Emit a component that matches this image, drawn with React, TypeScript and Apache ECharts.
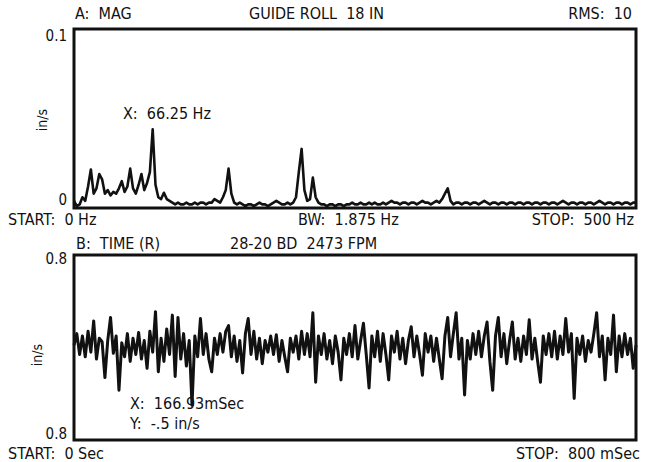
import React, { useEffect, useRef } from "react";
import * as echarts from "echarts";

// ---- Spectrum (A: MAG) : 0..500 Hz, bins every 2.5 Hz, amplitude in in/s ----
const SPEC_START_HZ = 0;
const SPEC_STEP_HZ = 2.5;
const spectrumAmp: number[] = [
  0.004, 0.001, 0.002, 0.006, 0.004, 0.012, 0.0215, 0.008, 0.011, 0.019,
  0.016, 0.008, 0.010, 0.007, 0.009, 0.008, 0.011, 0.015, 0.009, 0.012,
  0.022, 0.011, 0.008, 0.013, 0.019, 0.010, 0.014, 0.020, 0.044, 0.013,
  0.006, 0.005, 0.0085, 0.005, 0.004, 0.003, 0.002, 0.003, 0.002, 0.002,
  0.003, 0.002, 0.002, 0.003, 0.002, 0.003, 0.003, 0.002, 0.003, 0.003,
  0.005, 0.004, 0.003, 0.006, 0.010, 0.022, 0.008, 0.003, 0.002, 0.003,
  0.002, 0.001, 0.002, 0.002, 0.001, 0.002, 0.003, 0.002, 0.002, 0.001,
  0.002, 0.003, 0.004, 0.003, 0.002, 0.002, 0.003, 0.002, 0.003, 0.006,
  0.020, 0.033, 0.010, 0.004, 0.005, 0.017, 0.006, 0.003, 0.002, 0.002,
  0.001, 0.002, 0.002, 0.001, 0.002, 0.002, 0.001, 0.002, 0.002, 0.003,
  0.002, 0.002, 0.003, 0.002, 0.002, 0.003, 0.002, 0.003, 0.002, 0.002,
  0.003, 0.002, 0.003, 0.004, 0.003, 0.003, 0.002, 0.003, 0.003, 0.002,
  0.003, 0.003, 0.002, 0.003, 0.004, 0.003, 0.003, 0.002, 0.003, 0.004,
  0.003, 0.005, 0.008, 0.011, 0.004, 0.002, 0.003, 0.003, 0.002, 0.003,
  0.003, 0.002, 0.003, 0.003, 0.002, 0.003, 0.004, 0.003, 0.002, 0.003,
  0.003, 0.002, 0.003, 0.003, 0.002, 0.003, 0.003, 0.002, 0.003, 0.003,
  0.002, 0.003, 0.003, 0.002, 0.003, 0.003, 0.002, 0.003, 0.003, 0.002,
  0.003, 0.003, 0.002, 0.003, 0.004, 0.003, 0.002, 0.003, 0.003, 0.002,
  0.003, 0.003, 0.002, 0.003, 0.003, 0.002, 0.003, 0.004, 0.003, 0.002,
  0.003, 0.003, 0.002, 0.003, 0.003, 0.002, 0.003, 0.003, 0.002, 0.003,
  0.003,
];

// ---- Time waveform (B: TIME) : 0..800 ms, samples every 4 ms, in/s ----
const WAVE_START_MS = 0;
const WAVE_STEP_MS = 4;
const waveAmp: number[] = [
  0.02, 0.12, -0.06, 0.10, -0.08, 0.14, -0.04, 0.23, -0.10, 0.08,
  0.05, -0.26, 0.06, 0.26, -0.05, 0.10, -0.37, 0.04, -0.08, 0.12,
  -0.12, 0.08, -0.06, 0.13, -0.10, 0.06, -0.18, 0.14, -0.04, 0.31,
  -0.21, 0.08, -0.12, 0.16, -0.06, 0.28, -0.25, 0.26, -0.10, 0.12,
  -0.16, 0.06, -0.50, 0.10, -0.08, 0.25, -0.06, 0.12, -0.10, -0.21,
  0.08, -0.06, 0.12, -0.04, 0.14, 0.19, -0.08, 0.10, -0.12, 0.06,
  -0.22, 0.12, 0.25, -0.06, 0.14, -0.10, 0.08, -0.14, 0.06, -0.04,
  0.10, -0.06, 0.11, -0.12, 0.06, -0.08, -0.21, 0.08, -0.04, 0.10,
  -0.10, 0.14, -0.06, 0.12, -0.08, 0.30, -0.30, 0.10, -0.06, 0.12,
  -0.10, 0.06, -0.14, 0.10, -0.04, -0.28, 0.08, -0.06, 0.12, -0.08,
  0.19, -0.10, 0.06, 0.21, -0.06, -0.35, 0.10, -0.08, 0.14, -0.12,
  0.12, -0.06, -0.28, 0.10, -0.04, 0.14, -0.10, 0.08, -0.14, 0.06,
  0.18, -0.08, 0.10, -0.06, -0.24, 0.12, -0.04, 0.10, -0.12, 0.08,
  -0.10, -0.27, 0.10, 0.26, -0.08, 0.12, 0.30, -0.10, 0.08, -0.41,
  0.06, -0.10, 0.12, -0.06, 0.14, -0.08, 0.10, 0.22, -0.12, -0.37,
  0.10, 0.26, -0.08, 0.12, -0.14, 0.06, 0.22, -0.10, 0.08, -0.12,
  0.10, -0.06, 0.24, -0.10, 0.08, -0.12, -0.30, 0.10, -0.06, 0.12,
  -0.08, 0.14, -0.10, 0.10, -0.06, 0.25, -0.04, 0.12, -0.44, 0.08,
  -0.06, 0.10, -0.12, 0.06, -0.04, 0.12, 0.30, -0.08, 0.10, -0.28,
  0.08, -0.06, 0.28, -0.21, 0.10, -0.08, 0.12, -0.06, 0.08, -0.18,
  0.02,
];

// ---- Axis ranges and tick labels ----
const specXRange = [0, 500];
const specYRange = [0, 0.1];
const specYTickLabels = ["0", "0.1"];
const waveXRange = [0, 800];
const waveYRange = [-0.8, 0.8];
const waveYTickLabels = ["0.8", "0.8"];

// ---- Header / annotation texts ----
const topHeader = ["A:  MAG", "GUIDE ROLL  18 IN", "RMS:  10"];
const topFooter = ["START:  0 Hz", "BW:  1.875 Hz", "STOP:  500 Hz"];
const topCursor = "X:  66.25 Hz";
const bottomHeader = ["B:  TIME (R)", "28-20 BD  2473 FPM"];
const bottomCursor = ["X:  166.93mSec", "Y:  -.5 in/s"];
const bottomFooter = ["START:  0 Sec", "STOP:  800 mSec"];
const unitLabel = "in/s";

const FONT = "'DejaVu Sans Condensed', 'Liberation Sans Narrow', sans-serif";

export default function App() {
  const ref = useRef<HTMLDivElement>(null);

  useEffect(() => {
    if (!ref.current) return;
    const chart = echarts.init(ref.current, undefined, { renderer: "svg" });

    const specData = spectrumAmp.map((v, i) => [SPEC_START_HZ + i * SPEC_STEP_HZ, v]);
    const waveData = waveAmp.map((v, i) => [WAVE_START_MS + i * WAVE_STEP_MS, v]);

    const txt = (
      text: string,
      x: number,
      y: number,
      align: string = "left",
      size: number = 16,
      rotation: number = 0
    ) => ({
      type: "text",
      x,
      y,
      rotation,
      style: {
        text,
        fill: "#111",
        font: `${size}px ${FONT}`,
        textAlign: align,
        textVerticalAlign: "middle",
      },
    });

    const gridTop = { left: 74, top: 29, width: 562, height: 179 };
    const gridBot = { left: 74, top: 255, width: 562, height: 185 };

    const hiddenAxis = {
      axisLine: { show: false }, axisTick: { show: false }, axisLabel: { show: false },
      splitLine: { show: false },
    };

    const option: any = {
      animation: false,
      backgroundColor: "#fff",
      grid: [
        { ...gridTop, show: true, borderColor: "#111", borderWidth: 3, containLabel: false },
        { ...gridBot, show: true, borderColor: "#111", borderWidth: 3, containLabel: false },
      ],
      xAxis: [
        { type: "value", gridIndex: 0, min: specXRange[0], max: specXRange[1], ...hiddenAxis },
        { type: "value", gridIndex: 1, min: waveXRange[0], max: waveXRange[1], ...hiddenAxis },
      ],
      yAxis: [
        { type: "value", gridIndex: 0, min: specYRange[0], max: specYRange[1], ...hiddenAxis },
        { type: "value", gridIndex: 1, min: waveYRange[0], max: waveYRange[1], ...hiddenAxis },
      ],
      series: [
        {
          type: "line", xAxisIndex: 0, yAxisIndex: 0, data: specData,
          showSymbol: false, symbol: "none",
          lineStyle: { color: "#111", width: 2.6, join: "round" },
          clip: true,
        },
        {
          type: "line", xAxisIndex: 1, yAxisIndex: 1, data: waveData,
          showSymbol: false, symbol: "none",
          lineStyle: { color: "#111", width: 3, join: "round" },
          clip: true,
        },
      ],
      graphic: [
        txt(topHeader[0], 75, 13),
        txt(topHeader[1], 249, 13),
        txt(topHeader[2], 632, 13, "right"),
        txt(specYTickLabels[1], 67, 36, "right", 15),
        txt(specYTickLabels[0], 67, 200, "right", 15),
        txt(unitLabel, 42, 120, "center", 14, Math.PI / 2),
        txt(topCursor, 123, 113),
        txt(topFooter[0], 8, 219),
        txt(topFooter[1], 298, 219),
        txt(topFooter[2], 634, 219, "right"),
        txt(bottomHeader[0], 76, 243),
        txt(bottomHeader[1], 230, 243),
        txt(waveYTickLabels[1], 67, 259, "right", 15),
        txt(waveYTickLabels[0], 67, 434, "right", 15),
        txt(unitLabel, 37, 355, "center", 14, Math.PI / 2),
        txt(bottomCursor[0], 130, 403),
        txt(bottomCursor[1], 130, 423),
        txt(bottomFooter[0], 8, 453),
        txt(bottomFooter[1], 640, 453, "right"),
      ],
    };

    chart.setOption(option);
    return () => chart.dispose();
  }, []);

  return (
    <div
      ref={ref}
      style={{ position: "fixed", left: 0, top: 0, width: 650, height: 462, background: "#fff" }}
    />
  );
}
